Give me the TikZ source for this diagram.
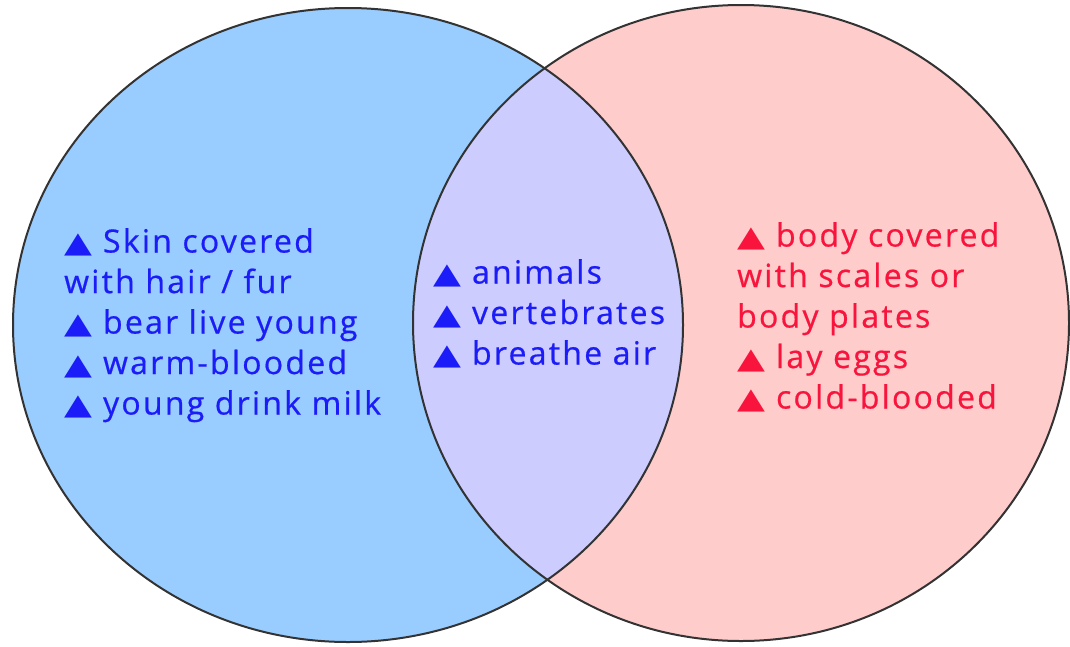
\documentclass[tikz,border=0pt]{standalone}
\usepackage{fontspec}
\setmainfont{Open Sans}[LetterSpace=7, FakeBold=0.6]
\newfontfamily\trifont{DejaVu Sans}
\usetikzlibrary{positioning}

\definecolor{mammalblue}{HTML}{99CCFF}
\definecolor{reptilepink}{HTML}{FFCCCC}
\definecolor{sharedlilac}{HTML}{CCCCFF}
\definecolor{bluetext}{HTML}{1C1CF8}
\definecolor{redtext}{HTML}{F8143C}
\newcommand{\tri}{{\trifont\fontsize{29}{29}\selectfont\scalebox{1.25}[1]{▲}}\hspace{11pt}}

\begin{document}
\begin{tikzpicture}[
    x=1pt, y=-1pt,
    outline/.style={draw=black!80, line width=2pt},
    facts/.style={anchor=north west, inner sep=0pt, align=left, font=\fontsize{32}{40.5}\selectfont}
]
    \useasboundingbox (0,0) rectangle (1070,646);
    % Circles
    \fill[mammalblue] (348,325) ellipse [x radius=335, y radius=317];
    \fill[reptilepink] (741,323) ellipse [x radius=328, y radius=318];
    \begin{scope}
        \clip (348,325) ellipse [x radius=335, y radius=317];
        \fill[sharedlilac] (741,323) ellipse [x radius=328, y radius=318];
    \end{scope}
    \draw[outline] (348,325) ellipse [x radius=335, y radius=317];
    \draw[outline] (741,323) ellipse [x radius=328, y radius=318];

    % Texts
    \node[facts, text=bluetext] (mammals) at (64,228)
        {\tri Skin covered\\with hair / fur\\\tri bear live young\\\tri warm-blooded\\\tri young drink milk};
    \node[facts, text=bluetext] (shared) at (433,259)
        {\tri animals\\\tri vertebrates\\\tri breathe air};
    \node[facts, text=redtext] (reptiles) at (737,222)
        {\tri body covered\\with scales or\\body plates\\\tri lay eggs\\\tri cold-blooded};
\end{tikzpicture}
\end{document}
